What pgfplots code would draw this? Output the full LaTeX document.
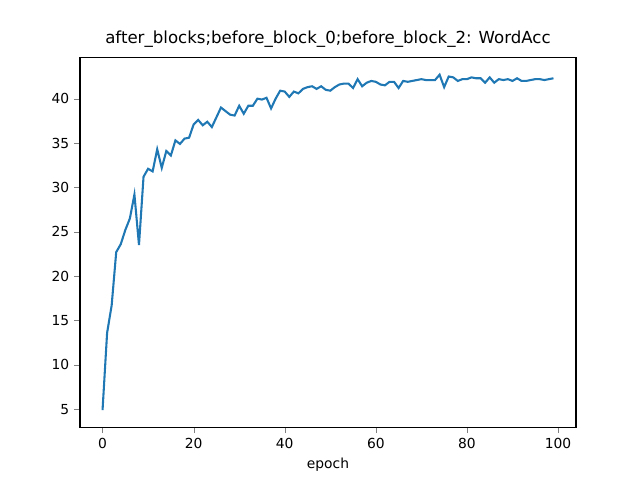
\documentclass[border=0pt]{standalone}
\usepackage{pgfplots}
\pgfplotsset{compat=1.18}
\usepackage{fontspec}
\setmainfont{DejaVu Sans}
\definecolor{mplblue}{HTML}{1F77B4}
\begin{document}
\begin{tikzpicture}
\path[use as bounding box] (0,0) rectangle (6.4in,4.8in);
\begin{axis}[at={(0.8in,0.528in)},anchor=south west,
scale only axis,width=4.96in,height=3.696in,
xmin=-4.95,xmax=103.95,ymin=2.97,ymax=44.63,
xtick={0,20,40,60,80,100},ytick={5,10,15,20,25,30,35,40},
tick align=outside,tick pos=left,
/pgf/number format/assume math mode=true,
tick label style={font=\fontsize{10}{12}\selectfont},
xlabel={epoch},xlabel style={font=\fontsize{10}{12}\selectfont},
title={after\_blocks;before\_block\_0;before\_block\_2: WordAcc},
title style={font=\fontsize{12}{14}\selectfont,yshift=-2pt},
axis line style={black,line width=0.8pt}]
\addplot[mplblue,line width=1.5pt,mark=none] coordinates {
(0,4.9)(1,13.6)(2,16.7)(3,22.7)(4,23.6)(5,25.2)(6,26.5)(7,29.2)(8,23.5)(9,31.2)
(10,32.1)(11,31.8)(12,34.3)(13,32.2)(14,34.1)(15,33.6)(16,35.3)(17,34.9)(18,35.5)(19,35.6)
(20,37.1)(21,37.6)(22,37.0)(23,37.4)(24,36.8)(25,37.9)(26,39.0)(27,38.6)(28,38.2)(29,38.1)
(30,39.2)(31,38.3)(32,39.2)(33,39.2)(34,40.0)(35,39.9)(36,40.1)(37,38.9)(38,40.0)(39,40.9)
(40,40.8)(41,40.2)(42,40.8)(43,40.6)(44,41.1)(45,41.3)(46,41.4)(47,41.1)(48,41.4)(49,41.0)
(50,40.9)(51,41.3)(52,41.6)(53,41.7)(54,41.7)(55,41.2)(56,42.2)(57,41.4)(58,41.8)(59,42.0)
(60,41.9)(61,41.6)(62,41.5)(63,41.9)(64,41.9)(65,41.2)(66,42.0)(67,41.9)(68,42.0)(69,42.1)
(70,42.2)(71,42.1)(72,42.1)(73,42.1)(74,42.7)(75,41.3)(76,42.5)(77,42.4)(78,42.0)(79,42.2)
(80,42.2)(81,42.4)(82,42.3)(83,42.3)(84,41.8)(85,42.4)(86,41.8)(87,42.2)(88,42.1)(89,42.2)
(90,42.0)(91,42.3)(92,42.0)(93,42.0)(94,42.1)(95,42.2)(96,42.2)(97,42.1)(98,42.2)(99,42.3)};
\end{axis}
\end{tikzpicture}
\end{document}
